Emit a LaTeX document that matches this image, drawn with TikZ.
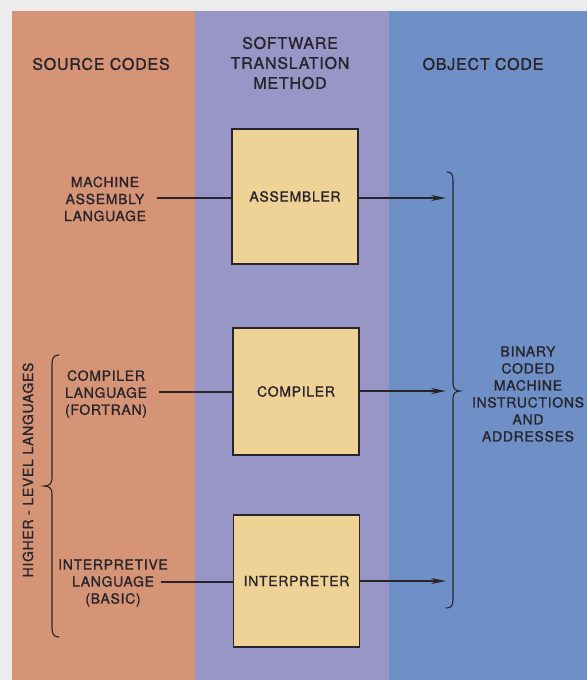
\documentclass[tikz,border=0pt]{standalone}
\usepackage{fontspec}
\setmainfont{TeX Gyre Heros}
\newfontfamily\lett[FakeBold=1.2, LetterSpace=5]{TeX Gyre Heros}
\usetikzlibrary{arrows.meta}
\definecolor{bgc}{RGB}{236,236,236}
\definecolor{srcc}{RGB}{214,148,118}
\definecolor{midc}{RGB}{152,150,198}
\definecolor{objc}{RGB}{110,144,198}
\definecolor{boxc}{RGB}{238,210,150}
\definecolor{inkc}{RGB}{40,36,44}
\tikzset{
  lbl/.style={text=inkc, align=center, font=\lett\fontsize{14}{17}\selectfont, inner sep=0pt},
  hdr/.style={text=inkc, align=center, font=\lett\fontsize{16}{20}\selectfont, inner sep=0pt},
  tbox/.style={draw=inkc, line width=1.1pt, fill=boxc, minimum width=126pt, text=inkc,
     font=\lett\fontsize{14}{17}\selectfont, inner sep=0pt},
  conn/.style={draw=inkc, line width=1.1pt},
  arr/.style={conn, -{Stealth[length=15pt,width=6pt]}},
  brc/.style={draw=inkc, line width=1.1pt, line cap=round}
}
\begin{document}
\begin{tikzpicture}[x=1pt,y=-1pt]
\fill[bgc] (0,0) rectangle (587,680);
\useasboundingbox (0,0) rectangle (587,680);
\fill[srcc] (12,11) rectangle (195,680);
\fill[midc] (195,11) rectangle (389,680);
\fill[objc] (389,11) rectangle (587,680);
% headers
\node[hdr] (h1) at (101,64) {SOURCE CODES};
\node[hdr] (h2) at (290,63) {SOFTWARE\\TRANSLATION\\METHOD};
\node[hdr] (h3) at (483,64) {OBJECT CODE};
% boxes
\node[tbox, minimum height=135pt] (asm) at (295,196.5) {ASSEMBLER};
\node[tbox, minimum height=127pt] (cmp) at (296,391.5) {COMPILER};
\node[tbox, minimum height=132pt] (int) at (296.5,581) {INTERPRETER};
% source labels
\node[lbl] (ma) at (105,199) {MACHINE\\ASSEMBLY\\LANGUAGE};
\node[lbl] (cl) at (106,394) {COMPILER\\LANGUAGE\\(FORTRAN)};
\node[lbl] (il) at (113,583) {INTERPRETIVE\\LANGUAGE\\(BASIC)};
\coordinate (ma-o) at (157,198);
\coordinate (cl-o) at (159,392);
\coordinate (il-o) at (161,582);
\draw[conn] (ma-o) -- (asm.west |- ma-o);
\draw[conn] (cl-o) -- (cmp.west |- cl-o);
\draw[conn] (il-o) -- (int.west |- il-o);
% output arrows
\coordinate (a1) at (446,198);
\coordinate (a2) at (446,391);
\coordinate (a3) at (446,581);
\draw[arr] (asm.east |- a1) -- (a1);
\draw[arr] (cmp.east |- a2) -- (a2);
\draw[arr] (int.east |- a3) -- (a3);
% right brace
\draw[brc] (447,172) .. controls (452,172) and (453,175) .. (453,181)
  -- (453,383) .. controls (453,388) and (455,391) .. (460,391)
  .. controls (455,391) and (453,394) .. (453,399)
  -- (453,600) .. controls (453,606) and (451,608) .. (446,608);
\node[lbl] (bin) at (528,394) {BINARY\\CODED\\MACHINE\\INSTRUCTIONS\\AND\\ADDRESSES};
% left brace
\draw[brc] (59,355) .. controls (54,355) and (52,358) .. (52,364)
  -- (52,478) .. controls (52,483) and (50,486) .. (44,486)
  .. controls (50,486) and (52,489) .. (52,494)
  -- (52,628) .. controls (52,634) and (54,637) .. (59,637);
\node[lbl, rotate=90] (hl) at (28,470) {HIGHER - LEVEL LANGUAGES};
\end{tikzpicture}
\end{document}
